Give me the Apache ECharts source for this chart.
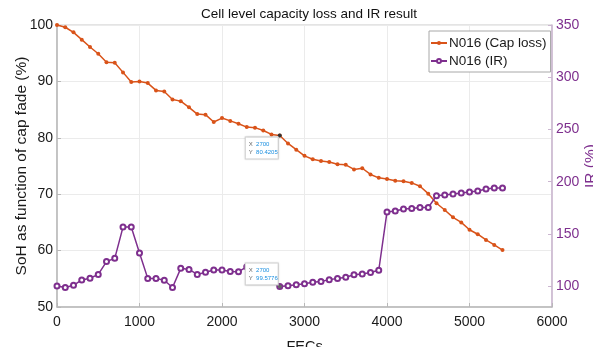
<!DOCTYPE html>
<html>
<head>
<meta charset="utf-8">
<script src="https://cdn.jsdelivr.net/npm/echarts@6/dist/echarts.min.js"></script>
<style>
html,body{margin:0;padding:0;background:#fff;}
#c{width:593px;height:347px;}
</style>
</head>
<body>
<div id="c"></div>
<script>
// FECs for the capacity series
const capFECs = [0,100,200,300,400,500,600,700,800,900,1000,1100,1200,1300,1400,1500,1600,1700,1800,1900,2000,2100,2200,2300,2400,2500,2600,2700,2800,2900,3000,3100,3200,3300,3400,3500,3600,3700,3800,3900,4000,4100,4200,4300,4400,4500,4600,4700,4800,4900,5000,5100,5200,5300,5400];
const capLoss = [100,99.6,98.7,97.4,96.1,94.9,93.4,93.3,91.6,89.9,90.0,89.7,88.4,88.2,86.8,86.5,85.4,84.2,84.1,82.8,83.5,83.0,82.5,81.9,81.8,81.3,80.6,80.4205,79.0,77.9,76.8,76.2,75.9,75.7,75.3,75.2,74.4,74.6,73.5,72.9,72.7,72.4,72.3,72.0,71.4,70.1,68.4,67.2,65.9,65.0,63.7,62.9,61.9,61.0,60.1];
// FECs for the IR series (points 2400-2600 are hidden under the data tip)
const irFECs = [0,100,200,300,400,500,600,700,800,900,1000,1100,1200,1300,1400,1500,1600,1700,1800,1900,2000,2100,2200,2300,2700,2800,2900,3000,3100,3200,3300,3400,3500,3600,3700,3800,3900,4000,4100,4200,4300,4400,4500,4600,4700,4800,4900,5000,5100,5200,5300,5400];
const irValues = [100,98.7,100.8,105.9,107.5,111.2,123.5,126.6,156.5,156.5,131.8,107.4,107.4,105.6,98.7,117.0,116.0,111.2,113.2,115.5,115.5,114.0,113.8,118.5,99.5776,100.3,101.2,102.2,103.6,104.4,106.2,107.4,108.4,110.9,111.5,113.0,115.2,171.0,172.0,173.8,174.3,175.3,175.3,186.5,187.3,188.3,189.1,190.2,191.1,193.0,193.9,193.9];
const seriesNames = ['N016 (Cap loss)', 'N016 (IR)'];
const xTicks = [0,1000,2000,3000,4000,5000,6000];
const leftTicks = [50,60,70,80,90,100];
const rightTicks = [100,150,200,250,300,350];
const tipCap = [2700, 80.4205];
const tipIR = [2700, 99.5776];

const ORANGE = '#D95319', PURPLE = '#7E2F8E';
const SANS = '"Liberation Sans",Arial,Helvetica,sans-serif';
const plain = v => String(v);

function tipLabel(pt, vAlign, dy) {
  return {
    show: true,
    position: [-32, dy],
    align: 'left',
    verticalAlign: vAlign,
    formatter: '{k|X} {v|' + pt[0] + '}\n{k|Y} {v|' + pt[1] + '}',
    backgroundColor: '#fff',
    borderColor: '#d4d4d4',
    borderWidth: 1,
    padding: [3, 3, 2, 3],
    width: 26,
    lineHeight: 8,
    shadowColor: 'rgba(0,0,0,0.12)',
    shadowBlur: 2,
    rich: {
      k: {fontFamily: SANS, fontSize: 6, color: '#666', lineHeight: 8},
      v: {fontFamily: SANS, fontSize: 6, color: '#1a8fe0', lineHeight: 8}
    }
  };
}

const chart = echarts.init(document.getElementById('c'), null, {renderer: 'canvas'});
chart.setOption({
  animation: false,
  backgroundColor: '#fff',
  title: {
    text: 'Cell level capacity loss and IR result',
    left: 304, top: 2, textAlign: 'center',
    textStyle: {fontFamily: SANS, fontSize: 13.5, fontWeight: 'normal', color: '#111'}
  },
  legend: {
    data: seriesNames,
    orient: 'vertical',
    left: 429, top: 31,
    padding: [5, 4, 4, 1],
    itemGap: 4,
    itemWidth: 16, itemHeight: 5,
    backgroundColor: '#fff',
    borderColor: '#a8a8a8', borderWidth: 1, borderRadius: 0,
    textStyle: {fontFamily: SANS, fontSize: 13.5, color: '#1a1a1a', padding: [0,0,0,-3]}
  },
  grid: {
    left: 57, right: 41, top: 25, bottom: 40,
    outerBoundsMode: 'none', containLabel: false,
    show: true, borderColor: '#c8c8c8', borderWidth: 1, backgroundColor: '#fff'
  },
  xAxis: {
    type: 'value', min: 0, max: 6000, interval: 1000,
    name: 'FECs', nameLocation: 'middle', nameGap: 32, nameMoveOverlap: false,
    nameTextStyle: {fontFamily: SANS, fontSize: 14.5, color: '#1a1a1a'},
    axisLine: {show: true, lineStyle: {color: '#b8b8b8', width: 1.5}},
    axisTick: {show: true, inside: true, length: 4, lineStyle: {color: '#b8b8b8'}},
    axisLabel: {fontFamily: SANS, fontSize: 14, color: '#1a1a1a', margin: 8,
      customValues: xTicks, formatter: plain},
    splitLine: {show: true, lineStyle: {color: '#ebebeb', width: 1}}
  },
  yAxis: [{
    type: 'value', min: 50, max: 100, interval: 10, position: 'left',
    name: 'SoH as function of cap fade (%)', nameLocation: 'middle', nameGap: 27, nameRotate: 90,
    nameMoveOverlap: false,
    nameTextStyle: {fontFamily: SANS, fontSize: 15.5, color: '#1a1a1a'},
    axisLine: {show: true, lineStyle: {color: '#b8b8b8', width: 1.5}},
    axisTick: {show: true, inside: true, length: 4, lineStyle: {color: '#b8b8b8'}},
    axisLabel: {fontFamily: SANS, fontSize: 14, color: '#1a1a1a', margin: 4,
      customValues: leftTicks, formatter: plain},
    splitLine: {show: true, lineStyle: {color: '#ebebeb', width: 1}}
  }, {
    type: 'value', min: 80, max: 350, position: 'right',
    name: 'IR (%)', nameLocation: 'middle', nameGap: 31, nameRotate: 90,
    nameMoveOverlap: false,
    nameTextStyle: {fontFamily: SANS, fontSize: 15.5, color: PURPLE},
    axisLine: {show: true, lineStyle: {color: '#cbb6d0', width: 1.5}},
    axisTick: {show: true, inside: true, length: 4, lineStyle: {color: '#cbb6d0'},
      customValues: rightTicks},
    axisLabel: {fontFamily: SANS, fontSize: 14, color: PURPLE, margin: 4,
      customValues: rightTicks, formatter: plain},
    splitLine: {show: false}
  }],
  series: [{
    name: seriesNames[0], type: 'line', yAxisIndex: 0,
    data: capFECs.map((x, i) => [x, capLoss[i]]),
    symbol: 'circle', symbolSize: 4, showAllSymbol: true,
    lineStyle: {color: ORANGE, width: 1.5},
    itemStyle: {color: ORANGE},
    z: 3,
    markPoint: {
      symbol: 'circle', symbolSize: 4,
      itemStyle: {color: '#333'},
      data: [{coord: tipCap, label: tipLabel(tipCap, 'top', 4)}]
    }
  }, {
    name: seriesNames[1], type: 'line', yAxisIndex: 1,
    data: irFECs.map((x, i) => [x, irValues[i]]),
    symbol: 'emptyCircle', symbolSize: 5, showAllSymbol: true,
    lineStyle: {color: PURPLE, width: 1.5},
    itemStyle: {color: PURPLE, borderWidth: 1.5},
    z: 4,
    markPoint: {
      symbol: 'circle', symbolSize: 4,
      itemStyle: {color: '#666'},
      data: [{coord: tipIR, label: tipLabel(tipIR, 'bottom', 0)}]
    }
  }]
});
</script>
</body>
</html>
